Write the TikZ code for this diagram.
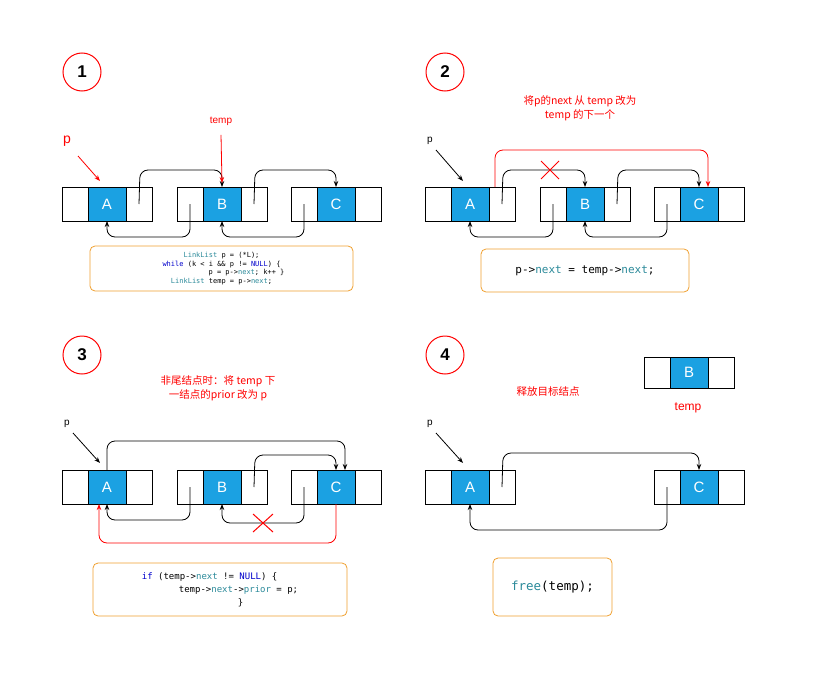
\documentclass[tikz,border=0pt]{standalone}
\usepackage{fontspec}
\setmainfont{Liberation Sans}
\newfontfamily\cjk{Noto Sans CJK SC}
\newfontfamily\codef{DejaVu Sans Mono}
\usetikzlibrary{arrows.meta}
\definecolor{nblue}{HTML}{1BA1E2}
\definecolor{kw}{HTML}{0000CC}
\definecolor{ty}{HTML}{2B8A9A}
\definecolor{obox}{HTML}{F0A030}
\newcommand\kwd[1]{\textcolor{kw}{#1}}
\newcommand\tyd[1]{\textcolor{ty}{#1}}
\tikzset{
 cell/.style={draw,line width=0.8pt,minimum width=26pt,minimum height=34pt,inner sep=0,outer sep=0},
 mid/.style={draw,line width=0.8pt,fill=nblue,minimum width=38pt,minimum height=34pt,inner sep=0,outer sep=0,text=white,font=\fontsize{15}{15}\selectfont},
 lnk/.style={-{Stealth[length=6pt]},line width=0.8pt,rounded corners=8pt},
 rlnk/.style={lnk,red},
 num/.style={circle,draw=red,line width=1pt,fill=white,minimum size=38pt,font=\bfseries\fontsize{17}{17}\selectfont},
 code/.style={draw=obox,line width=0.8pt,rounded corners=5pt,fill=white},
 rtxt/.style={text=red,font=\cjk\fontsize{10.5}{14}\selectfont,align=center},
}
\newcommand\lnod[4]{% name, left x, centre y, label
 \node[cell] (#1l) at (#2+13,#3) {};
 \node[mid] (#1m) at (#2+45,#3) {#4};
 \node[cell] (#1r) at (#2+77,#3) {};
}
\begin{document}
\begin{tikzpicture}[x=1pt,y=-1pt]
\useasboundingbox (0,0) rectangle (813,693);
% ===== panel 1
\node[num] (n1) at (82,72) {1};
\lnod{a1}{62}{204}{A}\lnod{b1}{177}{204}{B}\lnod{c1}{291}{204}{C}
\draw[lnk] (a1r.center) -- (140,170) -- (222,170) -- (b1m.north);
\draw[lnk] (b1r.center) -- (255,170) -- (336,170) -- (c1m.north);
\draw[lnk] (b1l.center) -- (190,237) -- (107,237) -- (a1m.south);
\draw[lnk] (c1l.center) -- (304,237) -- (222,237) -- (b1m.south);
\node[text=red,font=\fontsize{14}{14}\selectfont] (p1) at (67,141) {p};
\coordinate (p1e) at (100,181);
\draw[-{Stealth[length=6pt]},red,line width=0.8pt] (78,156) -- (p1e);
\node[text=red,font=\fontsize{10}{10}\selectfont] (t1) at (221,121) {temp};
\draw[-{Stealth[length=6pt]},red,line width=0.8pt] (t1.south) ++(0,6) -- (222,183);
\node[code,minimum width=263pt,minimum height=45pt] (c1box) at (221.5,268.5) {};
\node[font=\codef\fontsize{7}{8.8}\selectfont,align=center] (c1t) at (221.5,268.5) {\tyd{LinkList} p = (*L);\\ \kwd{while} (k < i \&\& p != \kwd{NULL}) \{\\ \hspace*{50pt}p = p->\tyd{next}; k++ \}\\ \tyd{LinkList} temp = p->\tyd{next};};
% ===== panel 2
\node[num] (n2) at (445,72) {2};
\lnod{a2}{425}{204}{A}\lnod{b2}{540}{204}{B}\lnod{c2}{654}{204}{C}
\draw[lnk] (a2r.center) -- (503,170) -- (585,170) -- (b2m.north);
\draw[lnk] (b2r.center) -- (618,170) -- (699,170) -- (c2m.north);
\draw[lnk] (b2l.center) -- (553,237) -- (470,237) -- (a2m.south);
\draw[lnk] (c2l.center) -- (667,237) -- (585,237) -- (b2m.south);
\draw[rlnk] (495,187) -- (495,150) -- (708,150) -- (708,187);
\node[rtxt] (tt2) at (580,108) {将p的next 从 temp 改为\\temp 的下一个};
\node[font=\fontsize{10}{10}\selectfont] (p2) at (430,141) {p};
\draw[-{Stealth[length=6pt]},line width=0.8pt] (436,150) -- (463,181);
\draw[red,line width=1pt] (541,161) -- (559,179) (541,179) -- (559,161);
\node[code,minimum width=208pt,minimum height=43pt] (c2box) at (585,270.5) {};
\node[font=\codef\fontsize{11}{13}\selectfont] at (585,270.5) {p->\tyd{next} = temp->\tyd{next};};
% ===== panel 3
\node[num] (n3) at (82,355) {3};
\lnod{a3}{62}{487}{A}\lnod{b3}{177}{487}{B}\lnod{c3}{291}{487}{C}
\draw[lnk] (a3m.north) -- (107,441) -- (345,441) -- (345,470);
\draw[lnk] (b3r.center) -- (255,455) -- (336,455) -- (336,470);
\draw[lnk] (b3l.center) -- (190,520) -- (107,520) -- (a3m.south);
\draw[lnk] (c3l.center) -- (304,523) -- (222,523) -- (b3m.south);
\draw[rlnk] (336,504) -- (336,543) -- (99,543) -- (99,504);
\draw[red,line width=1pt] (253,514) -- (273,532) (253,532) -- (273,514);
\node[rtxt] (tt3) at (218,388) {非尾结点时：将 temp 下\\一结点的prior 改为 p};
\node[font=\fontsize{10}{10}\selectfont] (p3) at (67,424) {p};
\draw[-{Stealth[length=6pt]},line width=0.8pt] (73,433) -- (100,463);
\node[code,minimum width=254pt,minimum height=53pt] (c3box) at (220,589.5) {};
\node[font=\codef\fontsize{9}{13}\selectfont,align=left] at (220,589.5) {\kwd{if} (temp->\tyd{next} != \kwd{NULL}) \{\\ \hspace*{37pt}temp->\tyd{next}->\tyd{prior} = p;\\ \hspace*{96pt}\}};
% ===== panel 4
\node[num] (n4) at (445,355) {4};
\node[cell] (a4l) at (438,487) {};
\node[mid] (a4m) at (470,487) {A};
\node[cell] (a4r) at (502,487) {};
\lnod{c4}{654}{487}{C}
\draw[lnk] (a4r.center) -- (503,453) -- (699,453) -- (c4m.north);
\draw[lnk] (c4l.center) -- (667,530) -- (470,530) -- (a4m.south);
\node[font=\fontsize{10}{10}\selectfont] (p4) at (430,424) {p};
\draw[-{Stealth[length=6pt]},line width=0.8pt] (436,433) -- (463,463);
\node[rtxt] (tt4) at (548,392) {释放目标结点};
\node[cell,minimum height=31pt] (b4l) at (657,372.5) {};
\node[mid,minimum height=31pt] (b4m) at (689,372.5) {B};
\node[cell,minimum height=31pt] (b4r) at (721,372.5) {};
\node[text=red,font=\fontsize{12}{12}\selectfont] (t4) at (688,408) {temp};
\node[code,minimum width=119pt,minimum height=58pt] (c4box) at (552.5,587) {};
\node[font=\codef\fontsize{12.5}{14}\selectfont] at (552.5,587) {\tyd{free}(temp);};
\end{tikzpicture}
\end{document}
